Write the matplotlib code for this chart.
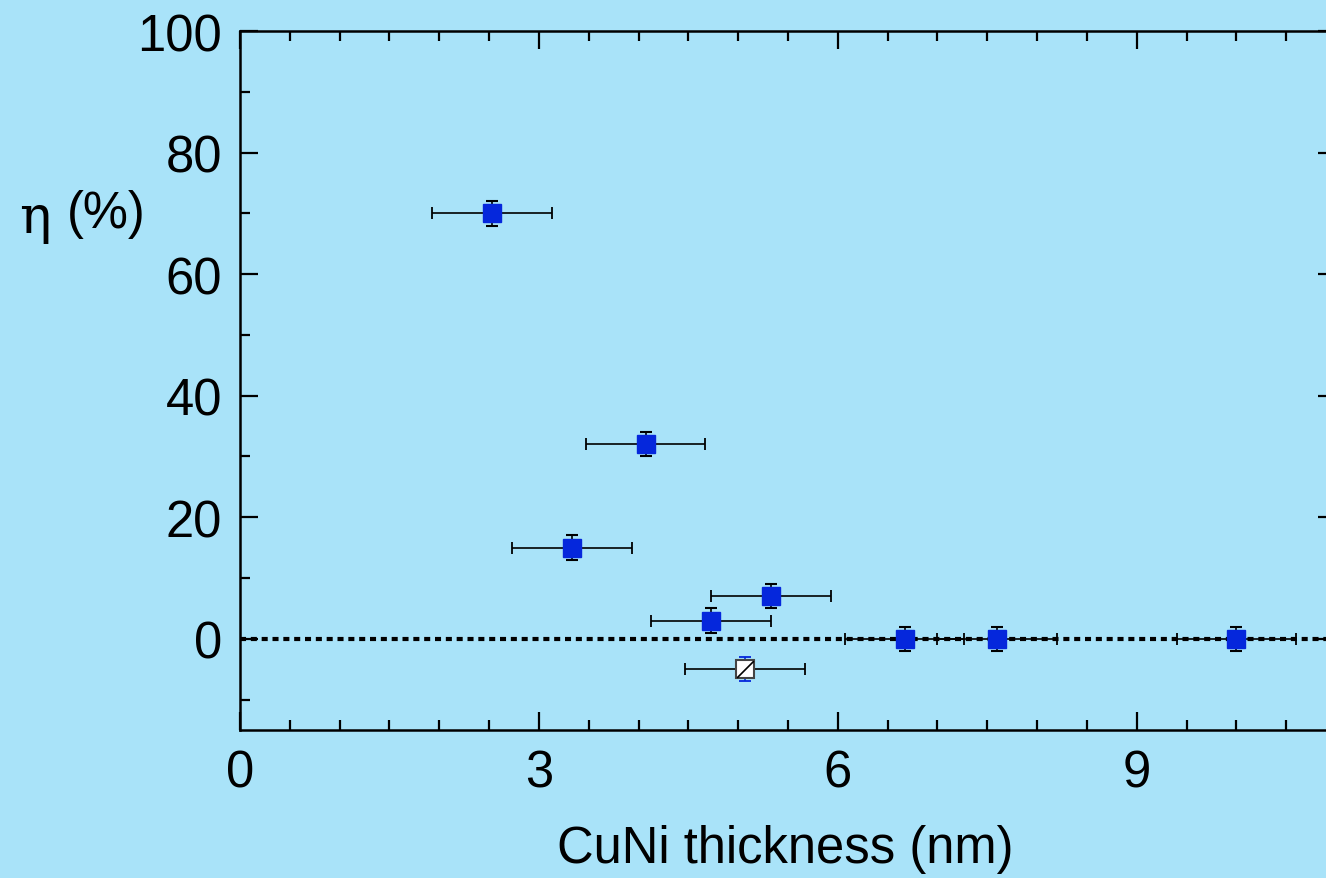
import matplotlib.pyplot as plt
from matplotlib.path import Path

# data
thick = [2.53, 3.33, 4.07, 4.73, 5.33, 6.67, 7.60, 10.0]
eta = [70, 15, 32, 3, 7, 0, 0, 0]
thick_err = [0.6, 0.6, 0.6, 0.6, 0.6, 0.6, 0.6, 0.6]
eta_err = [2, 2, 2, 2, 2, 2, 2, 2]

# the open (hatched) point
open_thick = [5.07]
open_eta = [-5]
open_thick_err = [0.6]
open_eta_err = [2]

bg = '#a9e3f9'
blue = '#0527dc'

plt.rcParams['font.family'] = ['Liberation Sans', 'DejaVu Sans']

fig = plt.figure(figsize=(13.26, 8.79), dpi=100, facecolor=bg)
ax = fig.add_axes([240/1326, 148/879, 1096/1326, 699/879])
ax.set_facecolor(bg)

# zero line
ax.axhline(0, color='black', lw=3.0, ls=(0, (1.45, 1.15)), zorder=1)

# x error bars (black), y error bars (black) for filled points
ax.errorbar(thick, eta, xerr=thick_err, fmt='none', ecolor='black',
            elinewidth=1.2, capsize=4.3, capthick=1.3, zorder=2)
ax.errorbar(thick, eta, yerr=eta_err, fmt='none', ecolor='black',
            elinewidth=1.2, capsize=4.3, capthick=1.5, zorder=2)
ax.plot(thick, eta, 's', color=blue, ms=13.4, mec=blue, zorder=4)

# open point: black x error, blue y error, white square with diagonal
ax.errorbar(open_thick, open_eta, xerr=open_thick_err, fmt='none',
            ecolor='black', elinewidth=1.2, capsize=4.3, capthick=1.3, zorder=2)
ax.errorbar(open_thick, open_eta, yerr=open_eta_err, fmt='none',
            ecolor=blue, elinewidth=1.2, capsize=4.3, capthick=1.3, zorder=2)
ax.plot(open_thick, open_eta, 's', color='white', ms=12.5, mec='#444444',
        mew=1.5, zorder=4)
diag = Path([(-1, -1), (1, 1)])
ax.plot(open_thick, open_eta, marker=diag, ms=12, mec='black', mew=1.2,
        ls='none', zorder=5)

ax.set_xlim(0, 11)
ax.set_ylim(-15, 100)
ax.set_xticks([0, 3, 6, 9])
ax.set_xticks([x * 0.5 for x in range(23)], minor=True)
ax.set_yticks([0, 20, 40, 60, 80, 100])
ax.set_yticks(list(range(-10, 101, 10)), minor=True)

ax.tick_params(which='both', direction='in', top=True, right=True,
               width=1.6, labelsize=36.5, pad=13)
ax.tick_params(which='major', length=13)
ax.tick_params(which='minor', length=7)
for s in ax.spines.values():
    s.set_linewidth(1.8)

fig.text(35/1326, 1 - 218/879, 'η', fontsize=38, ha='center', va='center',
         family=['DejaVu Serif'])
fig.text(106/1326, 1 - 215/879, '(%)', fontsize=36.5, ha='center',
         va='center')
fig.text(785/1326, 1 - 850/879, 'CuNi thickness (nm)', fontsize=36.5,
         ha='center', va='center')

plt.savefig('out.png', dpi=100, facecolor=bg)
